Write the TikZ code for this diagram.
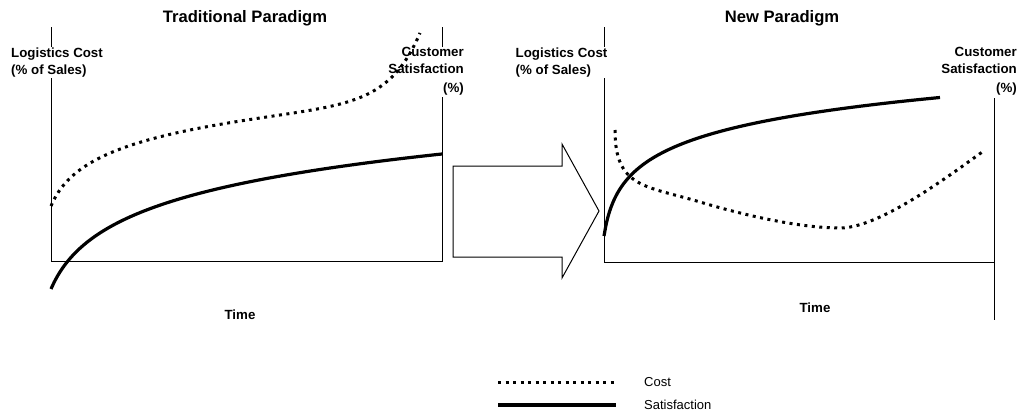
\documentclass[tikz,border=0pt]{standalone}
\usepackage{fontspec}
\setmainfont{Liberation Sans}
\begin{document}
\begin{tikzpicture}[x=1pt,y=-1pt,
  axis/.style={line width=1pt, line join=miter},
  lbl/.style={font=\fontsize{13.3}{17}\selectfont\bfseries, fill=white, inner sep=1pt},
  ttl/.style={font=\fontsize{16.6}{20}\selectfont\bfseries, inner sep=0pt},
  tlbl/.style={font=\fontsize{13.3}{16}\selectfont\bfseries, inner sep=0pt},
  lgtxt/.style={font=\fontsize{13}{16}\selectfont, inner sep=0pt, anchor=west},
  costc/.style={line width=3pt, dash pattern=on 3pt off 4.5pt},
  satc/.style={line width=3.2pt},
  blockarrow/.style={line width=1pt, line join=miter}]
\useasboundingbox (0,0) rectangle (1020,415);

% ---------- Traditional paradigm ----------
\coordinate (LAtop) at (51,27);
\coordinate (LAo) at (51,261);
\coordinate (LAr) at (442,261);
\coordinate (LArt) at (442,27);
\draw[axis] (LAtop) -- (LAo) -- (LAr) -- (LArt);

\node[ttl, anchor=base] (t1) at (245,22.7) {Traditional Paradigm};
\node[lbl, align=left, anchor=north west] (lc1) at (10,46.5) {Logistics Cost\\(\% of Sales)};
\node[lbl, align=right, anchor=north east] (cs1) at (465,46.5) {Customer\\Satisfaction\\[2pt](\%)};
\node[tlbl, anchor=base] (time1) at (240,319) {Time};

\draw[satc] plot[domain=51:442, samples=120, smooth] (\x, {289-43.95*(ln(\x-32)-2.944)});
\draw[costc] plot[domain=51:420, samples=150, smooth] (\x, {206-30.9*(ln(\x-38)-2.565)-68.6*exp((\x-420)/30)});

% ---------- Block arrow ----------
\coordinate (ba1) at (453,166);
\coordinate (ba2) at (562,166);
\coordinate (ba3) at (562,144);
\coordinate (ba4) at (599,211);
\coordinate (ba5) at (562,278);
\coordinate (ba6) at (562,257);
\coordinate (ba7) at (453,257);
\draw[blockarrow] (ba1) -- (ba2) -- (ba3) -- (ba4) -- (ba5) -- (ba6) -- (ba7) -- cycle;

% ---------- New paradigm ----------
\coordinate (RAtop) at (604,27);
\coordinate (RAo) at (604,262);
\coordinate (RAr) at (994,262);
\coordinate (RArt) at (994,98);
\coordinate (RArb) at (994,320);
\draw[axis] (RAtop) -- (RAo) -- (RAr);
\draw[axis] (RArt) -- (RArb);

\node[ttl, anchor=base] (t2) at (782,22.7) {New Paradigm};
\node[lbl, align=left, anchor=north west] (lc2) at (514.5,46.5) {Logistics Cost\\(\% of Sales)};
\node[lbl, align=right, anchor=north east] (cs2) at (1018,46.5) {Customer\\Satisfaction\\[2pt](\%)};
\node[tlbl, anchor=base] (time2) at (815,312) {Time};

\draw[satc] plot[domain=604:940, samples=150, smooth] (\x, {236-32.8*(ln(\x-599)-1.609)});
\coordinate (nc0) at (615,130);
\coordinate (nc1) at (700,202);
\coordinate (nc2) at (840,228);
\coordinate (nc3) at (985,150);
\draw[costc] (nc0) .. controls (615,188) and (645,185.5) .. (nc1)
             .. controls (745,215.5) and (800,228) .. (nc2)
             .. controls (880,228) and (950,175) .. (nc3);

% ---------- Legend ----------
\coordinate (lgca) at (498,382);
\coordinate (lgcb) at (616,382);
\coordinate (lgsa) at (498,405);
\coordinate (lgsb) at (616,405);
\draw[costc] (lgca) -- (lgcb);
\draw[line width=4pt] (lgsa) -- (lgsb);
\node[lgtxt] (lgc) at (644,382) {Cost};
\node[lgtxt] (lgs) at (644,405) {Satisfaction};
\end{tikzpicture}
\end{document}
